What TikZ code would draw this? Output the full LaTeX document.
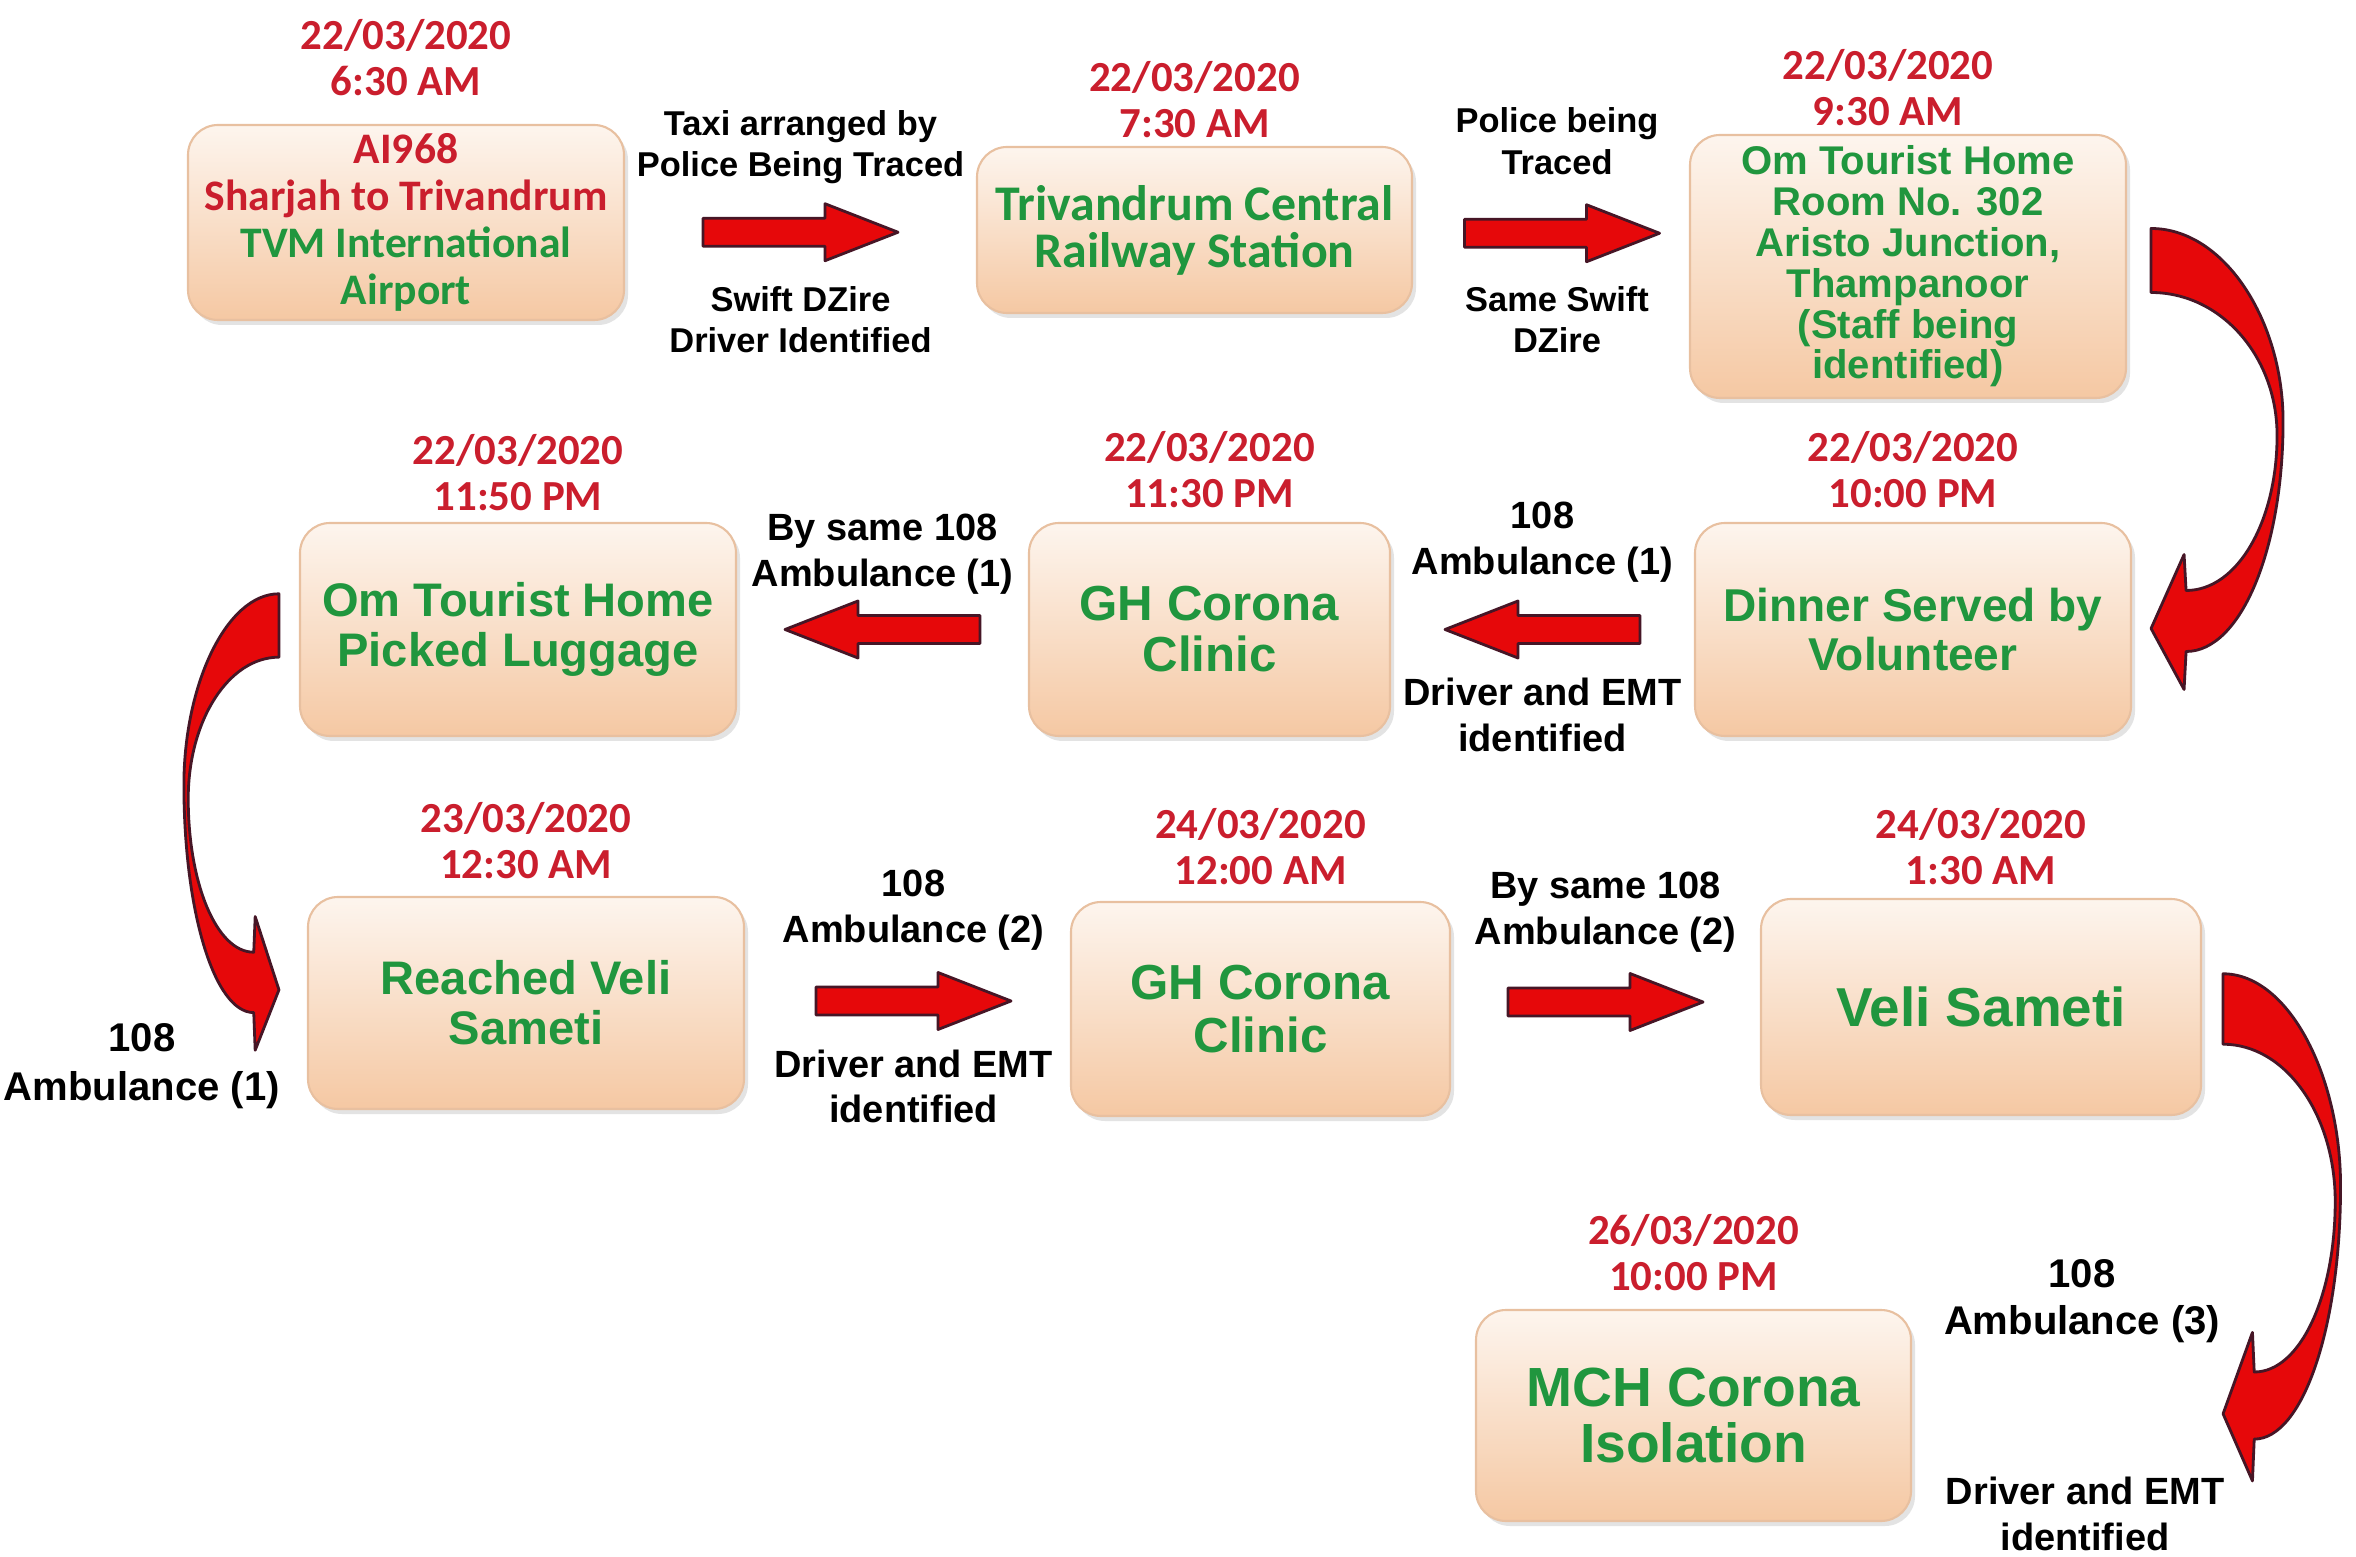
\documentclass[tikz,border=0pt]{standalone}
\usepackage{fontspec}
\setmainfont{Liberation Sans}
\newfontfamily\calib{Carlito}
\usetikzlibrary{positioning,calc,shadows}
\definecolor{boxgreen}{RGB}{32,150,62}
\definecolor{datered}{RGB}{202,30,45}
\definecolor{arrred}{RGB}{230,8,10}
\definecolor{arredge}{RGB}{70,22,38}
\definecolor{peachtop}{RGB}{253,245,238}
\definecolor{peachbot}{RGB}{245,200,163}
\definecolor{peachedge}{RGB}{232,192,160}
\tikzset{
    stage/.style={rounded corners=0.3cm, top color=peachtop, bottom color=peachbot, draw=peachedge, line width=0.6pt,
        drop shadow={opacity=0.22, shadow xshift=0.04cm, shadow yshift=-0.05cm}, align=center, inner sep=2pt,
        text=boxgreen, font=\bfseries\fontsize{13.4}{14.2}\selectfont},
    when/.style={align=center, text=datered, inner sep=0pt, font=\calib\bfseries\fontsize{12.2}{13.1}\selectfont},
    lbl/.style={align=center, inner sep=0pt, font=\bfseries\fontsize{10.8}{13}\selectfont},
    arr/.style={fill=arrred, draw=arredge, line width=0.8pt, line join=round},
    pics/blockarrow/.style={code={
        \draw[arr] (-0.975,-0.14) -- (0.245,-0.14) -- (0.245,-0.285) -- (0.975,0) -- (0.245,0.285) -- (0.245,0.14) -- (-0.975,0.14) -- cycle;}},
    pics/bendarrow/.style={code={
        \draw[arr] (0,0.32) .. controls (0.73,0.32) and (1.32,-0.6) .. (1.32,-1.61)
            .. controls (1.32,-2.88) and (0.90,-3.91) .. (0.35,-3.91) -- (0.33,-4.29) -- (0,-3.68) -- (0.33,-2.94) -- (0.35,-3.30)
            .. controls (0.87,-3.30) and (1.26,-2.6) .. (1.26,-1.75) .. controls (1.26,-0.96) and (0.70,-0.32) .. (0,-0.32) -- cycle;}}
}
\begin{document}
\begin{tikzpicture}
            \useasboundingbox[fill=white] (0,0) rectangle (23.56,-15.57);
            \node[stage, minimum width=4.36cm, minimum height=1.95cm, font=\calib\bfseries\fontsize{12.4}{13.3}\selectfont] (b1) at (4.06,-2.225)
                {\textcolor{datered}{AI968}\\\textcolor{datered}{Sharjah to Trivandrum}\\TVM International\\Airport};
            \node[stage, minimum width=4.35cm, minimum height=1.66cm, font=\calib\bfseries\fontsize{14.2}{13.4}\selectfont] (b2) at (11.945,-2.30)
                {Trivandrum Central\\Railway Station};
            \node[stage, minimum width=4.36cm, minimum height=2.63cm, font=\bfseries\fontsize{11.4}{11.6}\selectfont] (b3) at (19.08,-2.665)
                {Om Tourist Home\\Room No. 302\\Aristo Junction,\\Thampanoor\\(Staff being\\identified)};
            \node[stage, minimum width=4.36cm, minimum height=2.13cm] (b4) at (5.18,-6.295) {Om Tourist Home\\Picked Luggage};
            \node[stage, minimum width=3.61cm, minimum height=2.13cm, font=\bfseries\fontsize{14}{14.5}\selectfont] (b5) at (12.095,-6.295) {GH Corona\\Clinic};
            \node[stage, minimum width=4.36cm, minimum height=2.13cm, font=\bfseries\fontsize{13.1}{14.1}\selectfont] (b6) at (19.13,-6.295) {Dinner Served by\\Volunteer};
            \node[stage, minimum width=4.36cm, minimum height=2.12cm] (b7) at (5.26,-10.03) {Reached Veli\\Sameti};
            \node[stage, minimum width=3.79cm, minimum height=2.14cm, font=\bfseries\fontsize{14}{14.9}\selectfont] (b8) at (12.605,-10.09) {GH Corona\\Clinic};
            \node[stage, minimum width=4.40cm, minimum height=2.16cm, font=\bfseries\fontsize{15.6}{16}\selectfont] (b9) at (19.81,-10.07) {Veli Sameti};
            \node[stage, minimum width=4.35cm, minimum height=2.11cm, font=\bfseries\fontsize{15.7}{16.2}\selectfont] (b10) at (16.935,-14.155) {MCH Corona\\Isolation};

            \node[when, above=2.7mm of b1] (d1) {22/03/2020\\6:30 AM};
            \node[when, above=0.7mm of b2] (d2) {22/03/2020\\7:30 AM};
            \node[when, above=0.7mm of b3, xshift=-0.2cm] (d3) {22/03/2020\\9:30 AM};
            \node[when, above=1.0mm of b4] (d4) {22/03/2020\\11:50 PM};
            \node[when, above=1.3mm of b5] (d5) {22/03/2020\\11:30 PM};
            \node[when, above=1.3mm of b6] (d6) {22/03/2020\\10:00 PM};
            \node[when, above=1.6mm of b7] (d7) {23/03/2020\\12:30 AM};
            \node[when, above=1.5mm of b8] (d8) {24/03/2020\\12:00 AM};
            \node[when, above=1.2mm of b9] (d9) {24/03/2020\\1:30 AM};
            \node[when, above=1.7mm of b10] (d10) {26/03/2020\\10:00 PM};

            \coordinate (m1) at ($(b1.east)!.5!(b2.west)+(0,-0.06)$);
            \coordinate (m2) at ($(b2.east)!.5!(b3.west)+(0.11,0.15)$);
            \coordinate (m3) at ($(b4.east)!.5!(b5.west)$);
            \coordinate (m4) at ($(b5.east)!.5!(b6.west)$);
            \coordinate (m5) at ($(b7.east)!.5!(b8.west)+(0.06,0.05)$);
            \coordinate (m6) at ($(b8.east)!.5!(b9.west)+(0,0.06)$);
            \pic at (m1) {blockarrow};
            \pic at (m2) {blockarrow};
            \pic[rotate=180] at (m3) {blockarrow};
            \pic[rotate=180] at (m4) {blockarrow};
            \pic at (m5) {blockarrow};
            \pic at (m6) {blockarrow};
            \pic at ($(b3.east)+(0.24,0.06)$) {bendarrow};
            \pic[xscale=-0.72, yscale=0.99] at ($(b4.west)+(-0.20,0.04)$) {bendarrow};
            \pic[xscale=0.89, yscale=1.10] at ($(b9.east)+(0.21,-0.02)$) {bendarrow};

            \node[lbl, font=\bfseries\fontsize{9.8}{11.7}\selectfont] (t1) at ([yshift=0.855cm]m1) {Taxi arranged by\\Police Being Traced};
            \node[lbl, font=\bfseries\fontsize{9.8}{11.7}\selectfont] (u1) at ([yshift=-0.875cm]m1) {Swift DZire\\Driver Identified};
            \node[lbl, font=\bfseries\fontsize{9.8}{11.7}\selectfont] (t2) at ([yshift=0.92cm,xshift=-0.05cm]m2) {Police being\\Traced};
            \node[lbl, font=\bfseries\fontsize{9.8}{11.7}\selectfont] (u2) at ([yshift=-0.865cm,xshift=-0.05cm]m2) {Same Swift\\DZire};
            \node[lbl] (t3) at ([yshift=0.75cm]m3) {By same 108\\Ambulance (1)};
            \node[lbl] (t4) at ([yshift=0.87cm]m4) {108\\Ambulance (1)};
            \node[lbl] (u4) at ([yshift=-0.855cm]m4) {Driver and EMT\\identified};
            \node[lbl] (t5) at ([yshift=0.91cm]m5) {108\\Ambulance (2)};
            \node[lbl] (u5) at ([yshift=-0.855cm]m5) {Driver and EMT\\identified};
            \node[lbl] (t6) at ([yshift=0.895cm]m6) {By same 108\\Ambulance (2)};
            \node[lbl, font=\bfseries\fontsize{11.4}{14}\selectfont] (t7) at ($(b7.west)+(-1.65,-0.635)$) {108\\Ambulance (1)};
            \node[lbl, font=\bfseries\fontsize{11.4}{13.5}\selectfont] (t9) at ($(b10.east)+(1.70,1.145)$) {108\\Ambulance (3)};
            \node[lbl] (u9) at ($(b10.east)+(1.73,-0.985)$) {Driver and EMT\\identified};
        \end{tikzpicture}
\end{document}
